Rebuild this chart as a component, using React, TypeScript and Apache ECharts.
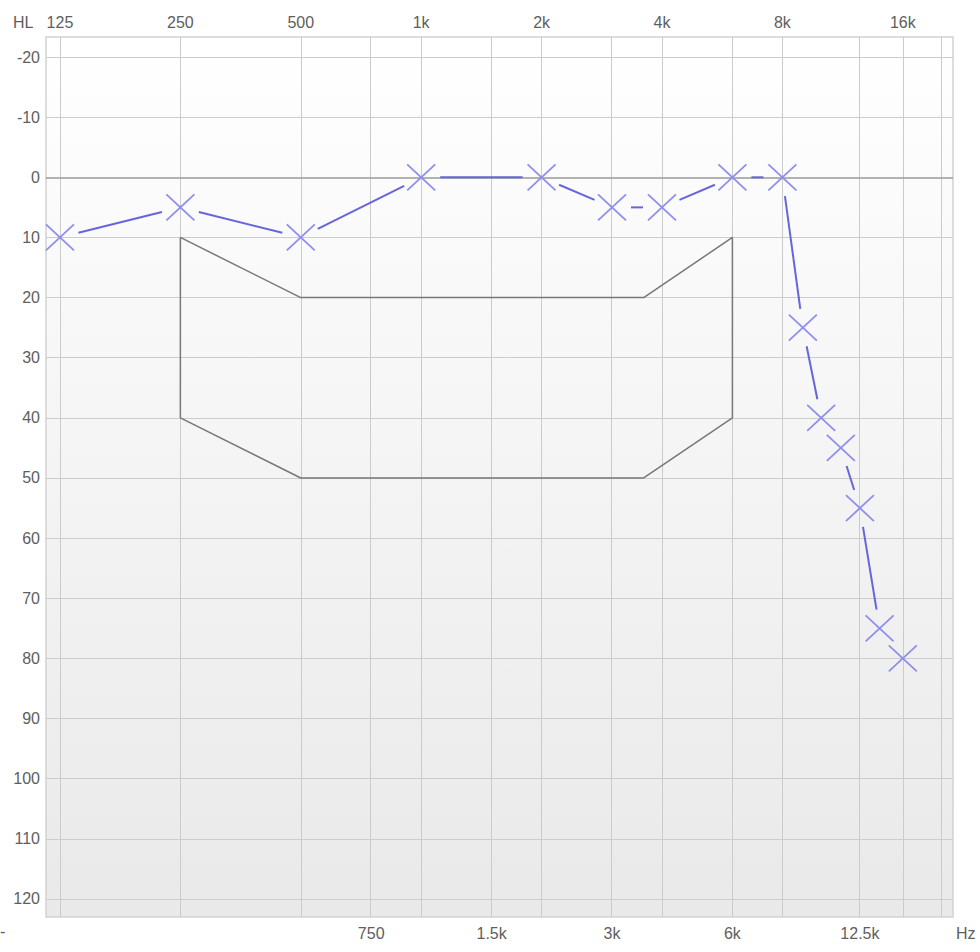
import React, { useEffect, useRef } from "react";
import * as echarts from "echarts";

// Audiogram data (frequency in Hz, hearing level in dB HL)
const freqs = [125, 250, 500, 1000, 2000, 3000, 4000, 6000, 8000, 9000, 10000, 11200, 12500, 14000, 16000];
const levels = [10, 5, 10, 0, 0, 5, 5, 0, 0, 25, 40, 45, 55, 75, 80];

// Gray reference region outline
const regionFreqs = [250, 250, 500, 3600, 6000, 6000, 3600, 500, 250];
const regionLevels = [10, 40, 50, 50, 40, 10, 20, 20, 10];

// Axis ticks
const topTickFreqs = [125, 250, 500, 1000, 2000, 4000, 8000, 16000];
const topTickLabels = ["125", "250", "500", "1k", "2k", "4k", "8k", "16k"];
const bottomTickFreqs = [750, 1500, 3000, 6000, 12500];
const bottomTickLabels = ["750", "1.5k", "3k", "6k", "12.5k"];
const gridFreqs = [125, 250, 500, 750, 1000, 1500, 2000, 3000, 4000, 6000, 8000, 12500, 16000, 20000];
const yTicks = [-20, -10, 0, 10, 20, 30, 40, 50, 60, 70, 80, 90, 100, 110, 120];

const X_MIN = -0.116;
const X_MAX = 7.417;
const Y_MIN = -23.33;
const Y_MAX = 123.0;

const toX = (f: number) => Math.log2(f / 125);

const labelFont = {
  color: "#5e5e5e",
  fontSize: 16,
  fontFamily: "Liberation Sans, Arial, sans-serif",
};

function lookup(v: number, ticks: number[], labels: string[]) {
  for (let i = 0; i < ticks.length; i++) {
    if (Math.abs(toX(ticks[i]) - v) < 1e-6) return labels[i];
  }
  return "";
}

export default function App() {
  const ref = useRef<HTMLDivElement>(null);

  useEffect(() => {
    if (!ref.current) return;
    const chart = echarts.init(ref.current, null, { renderer: "svg" });

    const pointData = freqs.map((f, i) => {
      const nf = i < freqs.length - 1 ? freqs[i + 1] : f;
      const nl = i < levels.length - 1 ? levels[i + 1] : levels[i];
      return [toX(f), levels[i], toX(nf), nl];
    });

    const option: any = {
      animation: false,
      backgroundColor: "#ffffff",
      grid: {
        left: 46,
        right: 27,
        top: 37,
        bottom: 35,
        show: true,
        borderColor: "#d2d2d2",
        borderWidth: 1.5,
        backgroundColor: new echarts.graphic.LinearGradient(0, 0, 0, 1, [
          { offset: 0, color: "#ffffff" },
          { offset: 1, color: "#e9e9e9" },
        ]),
      },
      xAxis: [
        {
          type: "value",
          position: "top",
          min: X_MIN,
          max: X_MAX,
          axisLine: { show: false },
          axisTick: { show: false },
          splitLine: { show: false },
          axisLabel: {
            ...labelFont,
            margin: 7,
            customValues: topTickFreqs.map(toX),
            formatter: (v: number) => lookup(v, topTickFreqs, topTickLabels),
          },
        },
        {
          type: "value",
          position: "bottom",
          min: X_MIN,
          max: X_MAX,
          axisLine: { show: false },
          axisTick: { show: false },
          splitLine: { show: false },
          axisLabel: {
            ...labelFont,
            margin: 8,
            customValues: bottomTickFreqs.map(toX),
            formatter: (v: number) => lookup(v, bottomTickFreqs, bottomTickLabels),
          },
        },
      ],
      yAxis: {
        type: "value",
        inverse: true,
        min: Y_MIN,
        max: Y_MAX,
        axisLine: { show: false },
        axisTick: { show: false },
        splitLine: { show: false },
        axisLabel: {
          ...labelFont,
          margin: 6,
          customValues: yTicks,
        },
      },
      graphic: [
        {
          type: "text",
          left: 13,
          top: 14,
          style: { text: "HL", fill: "#5e5e5e", font: "16px Liberation Sans, Arial, sans-serif" },
        },
        {
          type: "text",
          left: 956,
          top: 925,
          style: { text: "Hz", fill: "#5e5e5e", font: "16px Liberation Sans, Arial, sans-serif" },
        },
        {
          type: "text",
          left: 0,
          top: 923,
          style: { text: "-", fill: "#5e5e5e", font: "16px Liberation Sans, Arial, sans-serif" },
        },
      ],
      series: [
        {
          type: "line",
          xAxisIndex: 0,
          data: [],
          silent: true,
          z: 1,
          markLine: {
            silent: true,
            symbol: "none",
            z: 1,
            label: { show: false },
            animation: false,
            data: [
              ...gridFreqs.map((f) => ({
                xAxis: toX(f),
                lineStyle: { color: "#cbcbcb", width: 1, type: "solid" },
              })),
              ...yTicks.map((y) => ({
                yAxis: y,
                lineStyle: {
                  color: y === 0 ? "#9a9a9a" : "#cdcdcd",
                  width: y === 0 ? 1.5 : 1,
                  type: "solid",
                },
              })),
            ],
          },
        },
        {
          type: "line",
          xAxisIndex: 0,
          data: regionFreqs.map((f, i) => [toX(f), regionLevels[i]]),
          showSymbol: false,
          symbol: "none",
          lineStyle: { color: "#777777", width: 1.5 },
          silent: true,
          z: 3,
        },
        {
          type: "custom",
          xAxisIndex: 0,
          data: pointData,
          encode: { x: 0, y: 1 },
          z: 6,
          renderItem: (params: any, api: any) => {
            const p = api.coord([api.value(0), api.value(1)]);
            const q = api.coord([api.value(2), api.value(3)]);
            const children: any[] = [];
            const dx = q[0] - p[0];
            const dy = q[1] - p[1];
            const d = Math.hypot(dx, dy);
            const gap = 19;
            if (d > 2 * gap) {
              children.push({
                type: "line",
                shape: {
                  x1: p[0] + (dx / d) * gap,
                  y1: p[1] + (dy / d) * gap,
                  x2: q[0] - (dx / d) * gap,
                  y2: q[1] - (dy / d) * gap,
                },
                style: { stroke: "#6666dc", lineWidth: 2 },
              });
            }
            const s = 14;
            const sy = 13;
            children.push({
              type: "line",
              shape: { x1: p[0] - s, y1: p[1] - sy, x2: p[0] + s, y2: p[1] + sy },
              style: { stroke: "#8e8eee", lineWidth: 1.8 },
            });
            children.push({
              type: "line",
              shape: { x1: p[0] - s, y1: p[1] + sy, x2: p[0] + s, y2: p[1] - sy },
              style: { stroke: "#8e8eee", lineWidth: 1.8 },
            });
            return { type: "group", children };
          },
        },
      ],
    };

    chart.setOption(option);
    return () => chart.dispose();
  }, []);

  return (
    <div
      ref={ref}
      style={{ position: "fixed", left: 0, top: 0, width: 980, height: 952, background: "#fff" }}
    />
  );
}
